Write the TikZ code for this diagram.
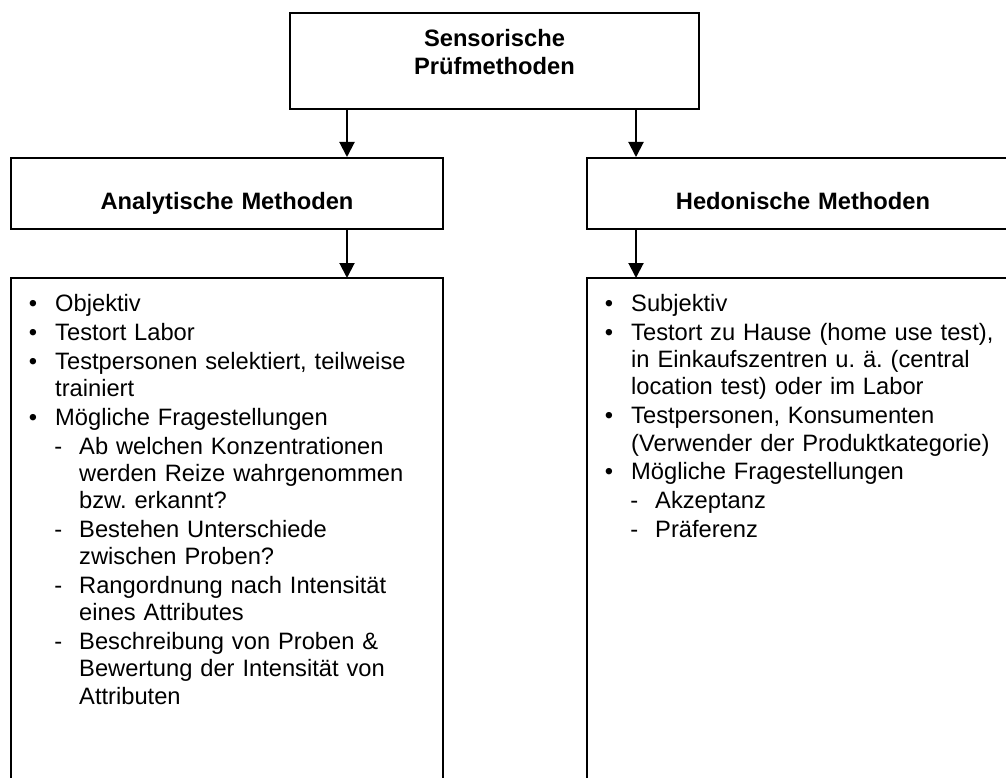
\documentclass[tikz,border=0pt]{standalone}
\usepackage{fontspec}
\setmainfont{Liberation Sans}
\usepackage{enumitem}
\usetikzlibrary{arrows.meta,positioning,calc}

\newcommand{\bodyfont}{\fontsize{23.7pt}{27.3pt}\selectfont\frenchspacing}
\setlist{nosep}
\setlist[itemize,1]{leftmargin=44pt, labelsep=18pt, itemsep=1.5pt, label=\textbullet}
\setlist[itemize,2]{leftmargin=24pt, labelsep=17pt, itemsep=1.5pt, topsep=1.5pt, label=-}

\tikzset{
  box/.style={draw, line width=2pt},
  headbox/.style={box, inner sep=0pt, text width=432pt, align=center,
    text height=51pt, text depth=20pt, font=\bodyfont\bfseries},
  listtext/.style={inner xsep=0pt, inner ysep=6pt, text width=432pt,
    align=left, anchor=north west},
  arr/.style={line width=2pt, -{Triangle[length=15pt,width=15pt]}},
  every node/.style={font=\bodyfont}
}

\begin{document}
\begin{tikzpicture}[x=1pt,y=-1pt]
    \useasboundingbox (0,0) rectangle (1006,778);
    \clip (0,0) rectangle (1006,778);
    %% top
    \node[box, inner sep=0pt, text width=409pt, align=center,
      text height=34pt, text depth=62pt, font=\bodyfont\bfseries]
      (spm) at (494.5,61) {Sensorische\\Prüfmethoden};
    %% second row
    \node[headbox] (ana) at (227,193.5) {Analytische Methoden};
    \node[headbox] (hed) at (803,193.5) {Hedonische Methoden};
    %% lists
    \node[listtext] (anl) at (11,278) {%
      \begin{itemize}
        \item Objektiv
        \item Testort Labor
        \item Testpersonen selektiert, teilweise\newline trainiert
        \item Mögliche Fragestellungen
        \begin{itemize}
          \item Ab welchen Konzentrationen\newline werden Reize wahrgenommen\newline bzw. erkannt?
          \item Bestehen Unterschiede\newline zwischen Proben?
          \item Rangordnung nach Intensität\newline eines Attributes
          \item Beschreibung von Proben \&\newline Bewertung der Intensität von\newline Attributen
        \end{itemize}
      \end{itemize}};
    \node[listtext] (hel) at (587,278) {%
      \begin{itemize}
        \item Subjektiv
        \item Testort zu Hause (home use test),\newline in Einkaufszentren u. ä. (central\newline location test) oder im Labor
        \item Testpersonen, Konsumenten\newline (Verwender der Produktkategorie)
        \item Mögliche Fragestellungen
        \begin{itemize}
          \item Akzeptanz
          \item Präferenz
        \end{itemize}
      \end{itemize}};
    \coordinate (bot) at (0,800);
    \draw[box] (anl.north west) rectangle (anl.east |- bot);
    \draw[box] (hel.north west) rectangle (hel.east |- bot);
    %% arrows
    \coordinate (lx) at (347,0);
    \coordinate (rx) at (636,0);
    \draw[arr] (spm.south -| lx) -- (ana.north -| lx);
    \draw[arr] (spm.south -| rx) -- (hed.north -| rx);
    \draw[arr] (ana.south -| lx) -- (anl.north -| lx);
    \draw[arr] (hed.south -| rx) -- (hel.north -| rx);
\end{tikzpicture}
\end{document}
